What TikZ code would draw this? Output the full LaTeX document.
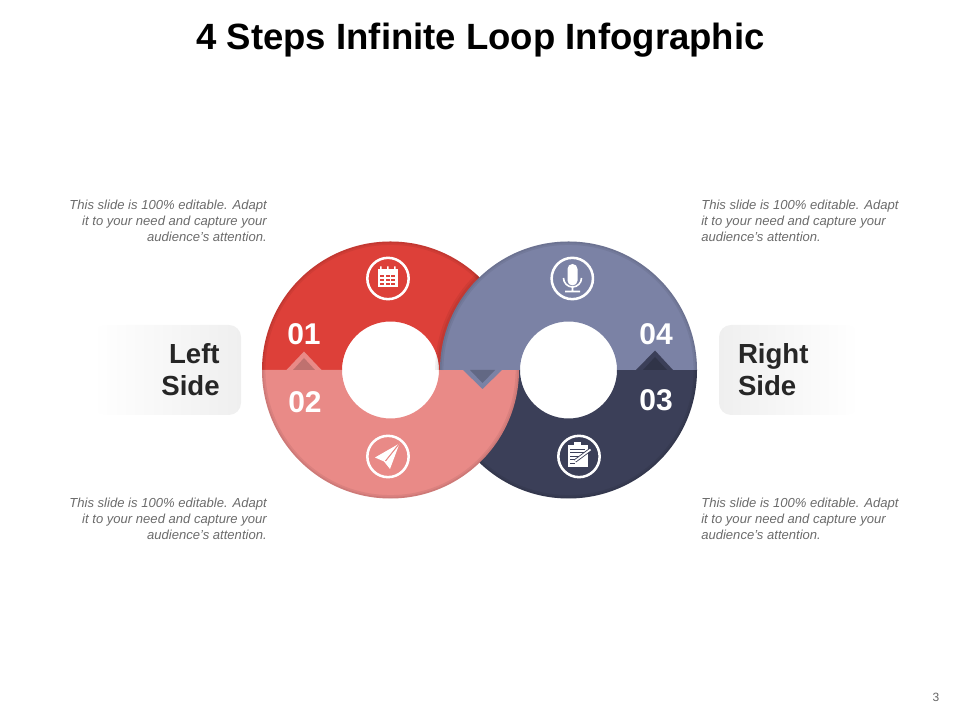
\documentclass[tikz,border=0pt]{standalone}
\usepackage{fontspec}
\setmainfont{Liberation Sans}
\pgfdeclarelayer{ringlayer}
\pgfdeclarelayer{nodelayer}
\pgfsetlayers{main,ringlayer,nodelayer}
\definecolor{ringred}{HTML}{DD4039}
\definecolor{ringsalmon}{HTML}{E98A87}
\definecolor{ringblue}{HTML}{7B82A5}
\definecolor{ringnavy}{HTML}{3B3F58}
\definecolor{sidegray}{HTML}{EFEFEF}
\tikzstyle{title}=[font=\bfseries\fontsize{27.4}{30}\selectfont,text=black]
\tikzstyle{number}=[font=\bfseries\fontsize{22.5}{26}\selectfont,text=white]
\tikzstyle{note}=[font=\itshape\fontsize{9.8}{12}\selectfont,text=black!58,inner sep=0pt]
\tikzstyle{note_left}=[style=note,anchor=east,align=right]
\tikzstyle{note_right}=[style=note,anchor=west,align=left]
\tikzstyle{side}=[font=\bfseries\fontsize{20.7}{24}\selectfont,text=black!85,rounded corners=9pt,minimum height=67.5pt,inner ysep=0pt,inner xsep=0pt]
\tikzstyle{side_left}=[style=side,left color=white,right color=sidegray,align=right,text width=79pt,minimum width=111pt]
\tikzstyle{side_right}=[style=side,right color=white,left color=sidegray,align=left,text width=76.5pt,minimum width=105pt]
\tikzstyle{icon_ring}=[circle,draw=white,line width=1.9pt,minimum size=31pt,inner sep=0pt]
\tikzstyle{rim}=[draw=black,draw opacity=0.06]
\newcommand{\halfring}[4]{% centre x, colour, start, end
	\fill [#2] (#1, 350) ++(#3:128.5) arc (#3:#4:128.5) -- ++(#4+180:80) arc (#4:#3:48.5) -- cycle;
	\draw [style=rim, line width=2.6pt] (#1, 350) ++(#3:126.8) arc (#3:#4:126.8);
	\draw [style=rim, line width=1.2pt] (#1, 350) ++(#3:127.7) arc (#3:#4:127.7);
}
\begin{document}
\begin{tikzpicture}[x=0.75pt,y=0.75pt]
	\useasboundingbox (0, 0) rectangle (960, 720);
	\begin{pgfonlayer}{ringlayer}
		\halfring{568.5}{ringnavy}{180}{360}
		\halfring{390.5}{ringred}{180}{0}
		% shadow of the blue half on the red one
		\begin{scope}
			\clip (390.5, 350) circle (128.5);
			\draw [style=rim, line width=5pt] (568.5, 350) ++(180:130) arc (180:120:130);
			\draw [style=rim, line width=2.5pt] (568.5, 350) ++(180:129.5) arc (180:120:129.5);
		\end{scope}
		\halfring{390.5}{ringsalmon}{180}{360}
		\halfring{568.5}{ringblue}{180}{0}
		% chevrons
		\fill [ringsalmon] (286.5, 350) -- (304, 368.5) -- (321.5, 350) -- cycle;
		\fill [ringsalmon!82!black] (293, 350) -- (304, 362) -- (315, 350) -- cycle;
		\fill [ringblue] (463, 350) -- (482.5, 331) -- (502, 350) -- cycle;
		\fill [ringblue!80!black] (470, 350) -- (482.5, 337) -- (495, 350) -- cycle;
		\fill [ringnavy] (636, 350) -- (655, 369.5) -- (673, 350) -- cycle;
		\fill [ringnavy!82!black] (643, 350) -- (655, 363) -- (667, 350) -- cycle;
	\end{pgfonlayer}
	\begin{pgfonlayer}{nodelayer}
		\node [style=title] (heading) at (480.5, 680) {4 Steps Infinite Loop Infographic};
		\node [style={note_left}] (note_tl) at (267, 499) {This slide is 100\% editable. Adapt\\it to your need and capture your\\audience’s attention.};
		\node [style={note_left}] (note_bl) at (267, 201) {This slide is 100\% editable. Adapt\\it to your need and capture your\\audience’s attention.};
		\node [style={note_right}] (note_tr) at (701, 499) {This slide is 100\% editable. Adapt\\it to your need and capture your\\audience’s attention.};
		\node [style={note_right}] (note_br) at (701, 201) {This slide is 100\% editable. Adapt\\it to your need and capture your\\audience’s attention.};
		\node [style={side_left}] (left_side) at (167, 350) {Left\\Side};
		\node [style={side_right}] (right_side) at (789, 350) {Right\\Side};
		\node [style=number] (num_1) at (304, 386) {01};
		\node [style=number] (num_2) at (305, 318) {02};
		\node [style=number] (num_3) at (656, 320) {03};
		\node [style=number] (num_4) at (656, 386) {04};
		\node [style={icon_ring}] (icon_cal) at (388, 441.5) {};
		\node [style={icon_ring}] (icon_plane) at (388, 263.5) {};
		\node [style={icon_ring}] (icon_mic) at (572.3, 441.5) {};
		\node [style={icon_ring}] (icon_clip) at (579, 263.5) {};
		% calendar
		\fill [white] (378, 432.7) rectangle (397.5, 451);
		\fill [white] (380, 451) rectangle (381.5, 453.5) (387, 451) rectangle (388.5, 453.5) (394, 451) rectangle (395.5, 453.5);
		\foreach \x in {380, 385.5, 391} {
			\foreach \y in {434.5, 438.5, 442.5} {
				\fill [ringred] (\x, \y) rectangle +(4.3, 2.8);
			}
		}
		% paper plane
		\fill [white] (399.5, 276.5) -- (375, 262.5) -- (384, 258.5) -- (390, 251) -- cycle;
		\draw [ringsalmon, line width=0.8pt] (399.5, 276.5) -- (385.5, 259);
		% microphone
		\fill [white, rounded corners=3.7pt] (567.5, 434.5) rectangle (577.5, 456);
		\draw [white, line width=1.2pt] (563.5, 442) arc (180:360:9 and 9) (572.5, 433) -- (572.5, 428.5) (565, 428.5) -- (580, 428.5);
		% clipboard
		\fill [white] (567.5, 252.5) rectangle (587.5, 275);
		\fill [white] (574, 275) rectangle (581, 278);
		\draw [ringnavy, line width=0.5pt] (570, 271) -- (585, 271) (570, 267.5) -- (585, 267.5) (570, 264) -- (582, 264) (570, 260.5) -- (578, 260.5) (570, 257) -- (575, 257);
		\draw [ringnavy, line width=2.6pt] (575, 259) -- (590.5, 270.5);
		\draw [white, line width=1.3pt] (575, 259) -- (590.5, 270.5);
		% page number
		\node [font=\fontsize{9}{11}\selectfont, text=black!60] (page_num) at (936, 23) {3};
	\end{pgfonlayer}
	\fill [white] (390.5, 350) circle (48.5);
	\fill [white] (568.5, 350) circle (48.5);
\end{tikzpicture}
\end{document}
